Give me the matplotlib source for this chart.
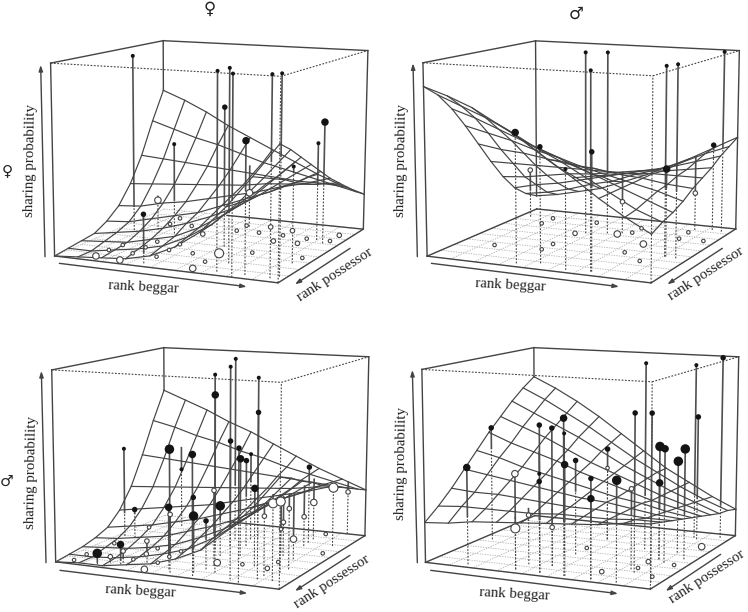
import numpy as np
import matplotlib
matplotlib.use('Agg')
from matplotlib import pyplot as plt

plt.rcParams['font.family'] = ['Liberation Serif', 'DejaVu Sans']

# rank beggar, rank possessor, sharing probability (permille) and number of observations
beggar_ff = [78, 715, 804, 704, 946, 970, 570, 270, 837, 929, 884, 938, 391, 174, 517, 155, 277, 154, 165, 272, 273, 271, 388, 169, 384, 381, 276, 388, 499, 599, 605, 606, 498, 498, 720, 603, 607, 721, 719, 723, 831, 836, 943, 943, 943, 159]
possessor_ff = [446, 947, 1000, 808, 952, 913, 559, 430, 947, 327, 281, 699, 952, 401, 170, 928, 945, 816, 714, 825, 710, 598, 833, 272, 710, 600, 267, 387, 719, 673, 823, 941, 266, 156, 604, 259, 135, 377, 262, 161, 373, 276, 600, 274, 157, 149]
share_ff = [972, 1000, 1000, 995, 1000, 1000, 748, 500, 670, 658, 532, 500, 255, 170, 195] + [0] * 31
count_ff = [1, 1, 1, 1, 1, 1, 2, 1, 3, 3, 1, 1, 2, 3, 3, 3, 3, 1, 1, 1, 1, 1, 1, 1, 1, 1, 1, 2, 1, 4, 1, 3, 1, 1, 1, 1, 2, 2, 1, 2, 2, 1, 1, 1, 2, 1]
filled_ff = 13

beggar_fm = [424, 718, 511, 896, 948, 959, 390, 479, 617, 722, 900, 911, 50, 571, 840, 159, 160, 381, 381, 556, 606, 611, 161, 378, 380, 732, 717, 830, 836, 830, 947]
possessor_fm = [358, 944, 318, 599, 606, 77, 951, 910, 962, 943, 597, 63, 161, 290, 96, 263, 149, 146, 377, 311, 260, 165, 715, 699, 595, 434, 601, 708, 279, 150, 275]
share_fm = [1000, 1000, 1000, 988, 1000, 1000, 670, 598, 510, 602, 460, 480, 275, 178, 210] + [0] * 16
count_fm = [1, 1, 1, 1, 1, 1, 3, 2, 1, 2, 3, 2, 2, 2, 2, 1, 1, 1, 2, 3, 1, 1, 1, 1, 1, 3, 1, 1, 1, 1, 1]
filled_fm = 12

beggar_mf = [671, 506, 538, 866, 505, 596, 769, 819, 35, 508, 613, 650, 600, 568, 175, 821, 771, 447, 91, 480, 594, 574, 616, 264, 177, 622, 929, 907, 918, 869, 818, 826, 938, 917, 813, 782, 873, 349, 260, 212, 345, 53, 51, 60, 52, 271, 277, 274, 386, 389, 389, 390, 611, 716, 834, 834, 947, 831]
possessor_mf = [878, 312, 436, 901, 519, 269, 947, 979, 463, 955, 964, 581, 406, 283, 173, 233, 711, 613, 472, 909, 915, 617, 845, 921, 962, 782, 899, 766, 702, 842, 165, 300, 247, 0, 504, 454, 539, 850, 892, 915, 628, 940, 832, 606, 262, 824, 719, 608, 719, 614, 831, 952, 726, 707, 724, 608, 389, 44]
share_mf = [1000, 1000, 975, 1000, 835, 708, 692, 668, 495, 630, 615, 520, 470, 478, 332, 420, 405, 300, 160, 322, 292, 270, 252, 105, 58, 395, 390, 365, 315, 305, 208, 162, 322, 240, 182, 128, 108, 115, 62, 32, 200] + [0] * 17
count_mf = [1, 1, 1, 1, 3, 2, 2, 2, 1, 4, 3, 3, 2, 1, 1, 2, 3, 2, 2, 3, 4, 4, 2, 3, 4, 2, 4, 4, 2, 2, 3, 2, 4, 2, 2, 1, 3, 2, 2, 2, 2, 1, 1, 1, 1, 1, 2, 1, 1, 1, 1, 3, 3, 1, 2, 1, 1, 1]
filled_mf = 25

beggar_mm = [952, 733, 847, 614, 846, 965, 869, 52, 504, 501, 447, 854, 894, 948, 512, 881, 503, 617, 176, 241, 503, 732, 843, 854, 732, 391, 512, 814, 402, 501, 391, 498, 722, 831, 829, 936, 946, 937]
possessor_mm = [67, 410, 115, 961, 795, 911, 141, 518, 953, 835, 608, 549, 593, 505, 306, 408, 615, 959, 956, 431, 954, 963, 967, 549, 963, 947, 306, 751, 851, 835, 947, 492, 835, 719, 604, 823, 612, 262]
share_mm = [1000, 1000, 960, 792, 808, 835, 682, 622, 748, 712, 640, 595, 595, 582, 505, 492, 503, 562, 505, 368, 465, 505, 508, 405, 405, 492, 400, 415, 258, 202, 212] + [0] * 7
count_mm = [2, 1, 1, 3, 2, 2, 2, 2, 2, 2, 1, 4, 3, 4, 2, 4, 2, 3, 3, 1, 2, 2, 4, 3, 3, 3, 1, 2, 2, 2, 4, 1, 2, 1, 2, 1, 1, 3]
filled_mm = 25

# fitted sharing probability (percent), rows = possessor, columns = beggar
surface_ff = [
    [71, 66, 60, 53, 47, 41, 35, 29, 24, 20],
    [55, 51, 47, 44, 40, 36, 33, 30, 27, 24],
    [37, 36, 35, 34, 33, 32, 31, 30, 30, 29],
    [23, 24, 25, 26, 27, 28, 30, 31, 32, 34],
    [13, 14, 17, 19, 22, 25, 28, 32, 35, 39],
    [7, 8, 11, 14, 17, 22, 27, 32, 38, 45],
    [3, 5, 7, 10, 14, 19, 25, 33, 42, 51],
    [2, 3, 4, 7, 10, 16, 24, 33, 45, 57],
    [1, 1, 3, 5, 8, 14, 22, 34, 48, 63],
    [0, 1, 2, 3, 6, 12, 21, 35, 51, 68],
]
surface_fm = [
    [8, 10, 13, 16, 21, 26, 32, 38, 45, 52],
    [12, 14, 17, 21, 24, 29, 33, 38, 44, 49],
    [18, 21, 23, 26, 29, 32, 35, 38, 42, 46],
    [27, 28, 30, 32, 33, 35, 37, 38, 40, 42],
    [38, 38, 38, 38, 38, 38, 38, 39, 39, 39],
    [50, 48, 47, 45, 43, 42, 40, 39, 37, 36],
    [62, 59, 56, 52, 49, 45, 42, 39, 36, 32],
    [73, 69, 64, 59, 54, 49, 44, 39, 34, 29],
    [82, 77, 72, 66, 59, 53, 46, 39, 32, 27],
    [88, 84, 79, 72, 65, 56, 48, 39, 31, 24],
]
surface_mf = [
    [75, 70, 65, 59, 54, 48, 42, 36, 31, 26],
    [59, 56, 52, 49, 45, 42, 38, 35, 32, 29],
    [41, 40, 39, 38, 37, 36, 35, 34, 33, 32],
    [25, 26, 27, 28, 29, 30, 31, 32, 34, 35],
    [14, 16, 18, 20, 22, 25, 28, 31, 34, 38],
    [7, 9, 11, 14, 17, 21, 25, 30, 35, 41],
    [4, 5, 7, 9, 13, 17, 22, 29, 36, 45],
    [2, 3, 4, 6, 9, 14, 20, 28, 37, 48],
    [1, 1, 2, 4, 7, 11, 18, 27, 38, 52],
    [0, 1, 1, 3, 5, 9, 15, 26, 39, 55],
]
surface_mm = [
    [83, 77, 70, 62, 53, 44, 35, 28, 21, 15],
    [78, 72, 65, 58, 50, 42, 35, 28, 22, 17],
    [72, 66, 60, 54, 47, 40, 34, 28, 23, 18],
    [65, 60, 55, 49, 43, 38, 33, 28, 24, 20],
    [58, 53, 49, 45, 40, 36, 32, 28, 25, 22],
    [50, 47, 43, 40, 37, 34, 31, 29, 26, 24],
    [42, 40, 38, 36, 34, 32, 31, 29, 27, 26],
    [34, 33, 33, 32, 31, 30, 30, 29, 28, 28],
    [27, 28, 28, 28, 28, 29, 29, 29, 30, 30],
    [21, 22, 24, 25, 26, 27, 28, 29, 31, 32],
]

cube = [(0, 1, 0), (1, 1, 0), (1, 0, 0), (0, 0, 0), (0, 1, 1), (1, 1, 1), (1, 0, 1), (0, 0, 1)]
panels = [
    dict(data=(beggar_ff, possessor_ff, share_ff, count_ff, filled_ff), surface=surface_ff, offset=(0, 0), floor_seen=False,
         box=[(165, 768), (835, 850), (1090, 685), (490, 628), (152, 187), (840, 230), (1105, 152), (490, 123)],
         arrows=[((135, 770), (122, 195)), ((178, 790), (740, 860)), ((1050, 745), (885, 853))],
         labels=[(92, 480), (430, 862), (1005, 825)]),
    dict(data=(beggar_fm, possessor_fm, share_fm, count_fm, filled_fm), surface=surface_fm, offset=(374, 0), floor_seen=True,
         box=[(160, 768), (832, 850), (1085, 685), (487, 628), (147, 187), (835, 228), (1097, 152), (485, 123)],
         arrows=[((130, 770), (117, 190)), ((172, 790), (735, 860)), ((1045, 745), (880, 853))],
         labels=[(83, 480), (410, 857), (995, 822)]),
    dict(data=(beggar_mf, possessor_mf, share_mf, count_mf, filled_mf), surface=surface_mf, offset=(0, 306), floor_seen=False,
         box=[(168, 768), (838, 850), (1095, 688), (493, 628), (155, 190), (843, 230), (1107, 152), (492, 126)],
         arrows=[((138, 770), (124, 195)), ((180, 793), (742, 862)), ((1050, 748), (885, 855))],
         labels=[(93, 500), (422, 857), (995, 828)]),
    dict(data=(beggar_mm, possessor_mm, share_mm, count_mm, filled_mm), surface=surface_mm, offset=(374, 306), floor_seen=True,
         box=[(155, 768), (828, 850), (1085, 688), (482, 630), (143, 190), (836, 228), (1093, 152), (480, 125)],
         arrows=[((130, 770), (115, 192)), ((170, 793), (732, 863)), ((1040, 745), (875, 855))],
         labels=[(83, 472), (422, 865), (1000, 812)]),
]

ink = '#444444'
dots = (0, (1.6, 1.4))
filled_px = [0, 4, 5.5, 7.5, 9.5]
open_px = [0, 3.5, 4.5, 6.5, 9]


def fit_camera(box, offset):
    A, b = [], []
    for (u, v, z), (x, y) in zip(cube, box):
        x = x / 3 + offset[0]
        y = y / 3 + offset[1]
        A.append([u, v, z, 1, 0, 0, 0, 0, -x * u, -x * v, -x * z])
        b.append(x)
        A.append([0, 0, 0, 0, u, v, z, 1, -y * u, -y * v, -y * z])
        b.append(y)
    sol = np.linalg.lstsq(np.array(A, float), np.array(b, float), rcond=None)[0]
    return np.append(sol, 1).reshape(3, 4)


def project(cam, u, v, z):
    u, v, z = np.broadcast_arrays(np.asarray(u, float), np.asarray(v, float), np.asarray(z, float))
    w = cam @ np.stack([u, v, z, np.ones_like(u)])
    return w[0] / w[2], w[1] / w[2]


def surface_at(Z, u, v):
    n = Z.shape[0] - 1
    i = min(int(v * n), n - 1)
    j = min(int(u * n), n - 1)
    a = v * n - i
    b = u * n - j
    return (Z[i, j] * (1 - a) * (1 - b) + Z[i, j + 1] * (1 - a) * b
            + Z[i + 1, j] * a * (1 - b) + Z[i + 1, j + 1] * a * b)


fig = plt.figure(figsize=(7.48, 6.12), dpi=100)
ax = fig.add_axes([0, 0, 1, 1])
ax.set_xlim(0, 748)
ax.set_ylim(612, 0)
ax.axis('off')

grid = np.linspace(0, 1, 10)

for panel in panels:
    cam = fit_camera(panel['box'], panel['offset'])
    ox, oy = panel['offset']
    Z = np.array(panel['surface']) / 100

    def line3d(u, v, z, **kw):
        x, y = project(cam, u, v, z)
        ax.plot(x, y, **kw)

    # floor grid
    for g in grid:
        line3d([g, g], [0, 1], 0, color='#b4b4b4', lw=0.6, ls=dots, zorder=1)
        line3d([0, 1], [g, g], 0, color='#b4b4b4', lw=0.6, ls=dots, zorder=1)

    # box, the near edges dashed
    solid = dict(color=ink, lw=1.0, zorder=2)
    dash = dict(color=ink, lw=0.8, ls=dots, zorder=2)
    line3d([0, 1], [1, 1], 0, **solid)
    line3d([1, 1], [1, 0], 0, **solid)
    line3d([0, 0], [1, 1], [0, 1], **solid)
    line3d([1, 1], [0, 0], [0, 1], **solid)
    line3d([0, 0], [1, 0], 1, **solid)
    line3d([0, 1], [0, 0], 1, **solid)
    line3d([1, 1], [1, 1], [0, 1], **dash)
    line3d([0, 1], [1, 1], 1, **dash)
    line3d([1, 1], [1, 0], 1, **dash)
    if panel['floor_seen']:
        line3d([0, 0], [1, 0], 0, **solid)
        line3d([0, 1], [0, 0], 0, **solid)
    else:
        line3d([0.33, 1], [0, 0], 0, **solid)
    line3d([0, 0], [0, 0], [Z[0, 0], 1], **solid)

    # stems and points
    beggar, possessor, share, count, filled = panel['data']
    px_u = np.array(beggar) / 1000
    px_v = np.array(possessor) / 1000
    px_z = np.array(share) / 1000
    for k, (u, v, z) in enumerate(zip(px_u, px_v, px_z)):
        if z == 0:
            continue
        s = surface_at(Z, u, v)
        line3d([u, u], [v, v], [0, min(z, s)], color=ink, lw=0.8, ls=dots, zorder=3)
        line3d([u, u], [v, v], [min(z, s), max(z, s)], color='#505050', lw=1.2, zorder=3)

    # wire surface
    for i in range(10):
        line3d(grid, grid[i], Z[i], color=ink, lw=0.85, zorder=4)
        line3d(grid[i], grid, Z[:, i], color=ink, lw=0.85, zorder=4)

    x, y = project(cam, px_u, px_v, px_z)
    d_fill = np.array([filled_px[c] for c in count]) * 0.72
    d_open = np.array([open_px[c] for c in count]) * 0.72
    ax.scatter(x[:filled], y[:filled], s=d_fill[:filled] ** 2, color='#141414', linewidths=0, zorder=6)
    ax.scatter(x[filled:], y[filled:], s=d_open[filled:] ** 2, facecolors='white', edgecolors=ink, linewidths=0.8, zorder=5)

    # axis arrows and names
    for (x0, y0), (x1, y1) in panel['arrows']:
        ax.annotate('', xy=(x1 / 3 + ox, y1 / 3 + oy), xytext=(x0 / 3 + ox, y0 / 3 + oy),
                    arrowprops=dict(arrowstyle='-|>,head_length=0.35,head_width=0.12', color=ink, lw=1.0,
                                    shrinkA=0, shrinkB=0))
    names = ['sharing probability', 'rank beggar', 'rank possessor']
    angles = [89, -3, 33]
    for name, angle, (tx, ty) in zip(names, angles, panel['labels']):
        ax.text(tx / 3 + ox, ty / 3 + oy, name, rotation=angle, rotation_mode='anchor', ha='center', va='center',
                fontsize=10.7, color='#222222')

ax.text(210, 9, '♀', ha='center', va='center', fontsize=12, family='DejaVu Sans', color='#222222')
ax.text(576, 14, '♂', ha='center', va='center', fontsize=12, family='DejaVu Sans', color='#222222')
ax.text(7, 171, '♀', ha='center', va='center', fontsize=11, family='DejaVu Sans', color='#222222')
ax.text(7, 481, '♂', ha='center', va='center', fontsize=11, family='DejaVu Sans', color='#222222')

fig.savefig('out.png', dpi=100)
